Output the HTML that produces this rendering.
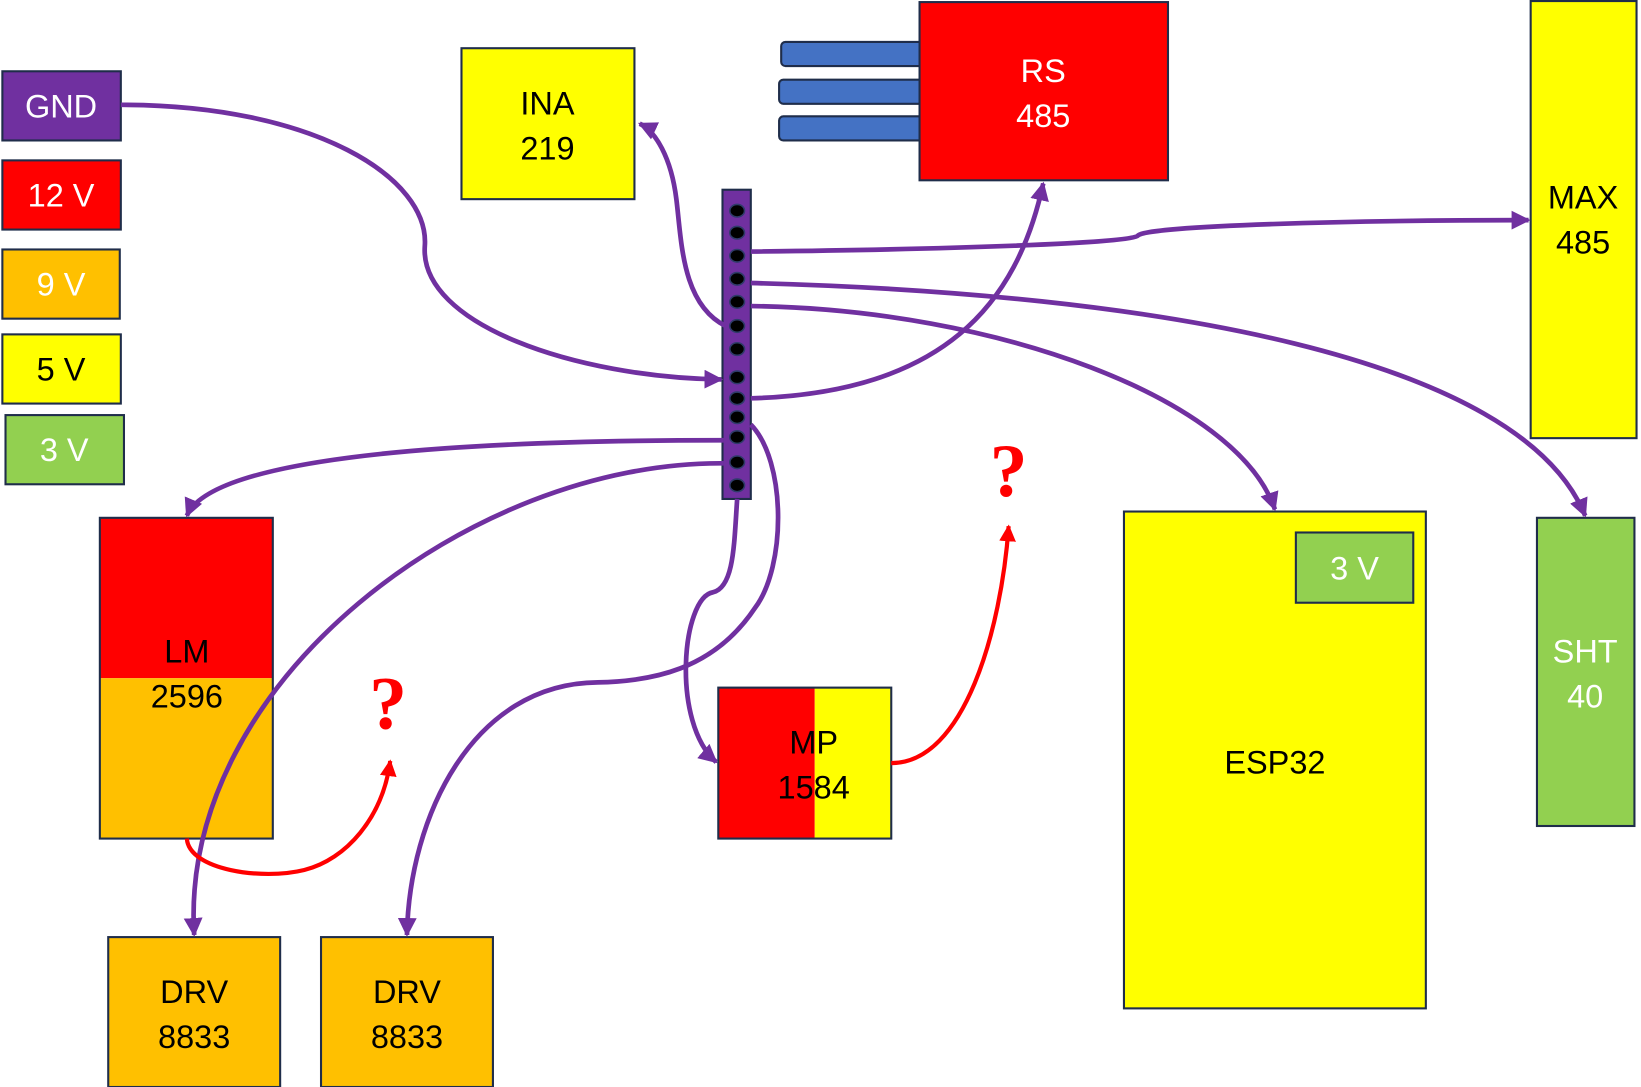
<!DOCTYPE html>
<html><head><style>html,body{margin:0;padding:0;background:#fff}svg{display:block}</style></head>
<body>
<svg width="1641" height="1087" viewBox="0 0 1565 1037" xmlns="http://www.w3.org/2000/svg" font-family="Liberation Sans, sans-serif" font-size="31" text-anchor="middle">
<defs>
<marker id="ap" viewBox="0 0 10 10" refX="9" refY="5" markerWidth="4" markerHeight="4" orient="auto" markerUnits="strokeWidth"><path d="M0,0 L10,5 L0,10 z" fill="#7030A0"/></marker>
<marker id="ar" viewBox="0 0 10 10" refX="9" refY="5" markerWidth="4" markerHeight="4" orient="auto" markerUnits="strokeWidth"><path d="M0,0 L10,5 L0,10 z" fill="#FF0000"/></marker>
</defs>
<g stroke="#1F2D4A" stroke-width="2">
<rect x="2" y="68" width="113" height="66" fill="#7030A0"/>
<rect x="2" y="153" width="113" height="66" fill="#FF0000"/>
<rect x="2" y="238" width="112" height="66" fill="#FFC000"/>
<rect x="2" y="319" width="113" height="66" fill="#FFFF00"/>
<rect x="5" y="396" width="113" height="66" fill="#92D050"/>
<rect x="440" y="46" width="165" height="144" fill="#FFFF00"/>
<rect x="745" y="40" width="140" height="23" rx="4" fill="#4472C4"/>
<rect x="743" y="76" width="142" height="23" rx="4" fill="#4472C4"/>
<rect x="743" y="111" width="142" height="23" rx="4" fill="#4472C4"/>
<rect x="877" y="2" width="237" height="170" fill="#FF0000"/>
<rect x="1460" y="1" width="101" height="417" fill="#FFFF00"/>
<rect x="95" y="494" width="165" height="153" fill="#FF0000" stroke="none"/>
<rect x="95" y="647" width="165" height="153" fill="#FFC000" stroke="none"/>
<rect x="95" y="494" width="165" height="306" fill="none"/>
<rect x="685" y="656" width="92" height="144" fill="#FF0000" stroke="none"/>
<rect x="777" y="656" width="73" height="144" fill="#FFFF00" stroke="none"/>
<rect x="685" y="656" width="165" height="144" fill="none"/>
<rect x="1072" y="488" width="288" height="474" fill="#FFFF00"/>
<rect x="1236" y="508" width="112" height="67" fill="#92D050"/>
<rect x="1466" y="494" width="93" height="294" fill="#92D050"/>
<rect x="103" y="894" width="164" height="143" fill="#FFC000"/>
<rect x="306" y="894" width="164" height="143" fill="#FFC000"/>
<rect x="689" y="181" width="27" height="295" fill="#7030A0"/>
</g>
<g fill="#000" stroke="#2F3B6A" stroke-width="1.5">
<ellipse cx="703" cy="201" rx="7" ry="6"/><ellipse cx="703" cy="222" rx="7" ry="6"/><ellipse cx="703" cy="244" rx="7" ry="6"/><ellipse cx="703" cy="266" rx="7" ry="6"/><ellipse cx="703" cy="288" rx="7" ry="6"/><ellipse cx="703" cy="311" rx="7" ry="6"/><ellipse cx="703" cy="333" rx="7" ry="6"/><ellipse cx="703" cy="360" rx="7" ry="6"/><ellipse cx="703" cy="380" rx="7" ry="6"/><ellipse cx="703" cy="398" rx="7" ry="6"/><ellipse cx="703" cy="417" rx="7" ry="6"/><ellipse cx="703" cy="441" rx="7" ry="6"/><ellipse cx="703" cy="463" rx="7" ry="6"/>
</g>
<g fill="none" stroke="#7030A0" stroke-width="4.5" marker-end="url(#ap)">
<path d="M115,100 C300,100 410,170 405,235 C400,310 550,360 688,362"/>
<path d="M692,311 C650,290 650,230 645,190 C640,150 625,125 610,118"/>
<path d="M716,240 C900,238 1080,232 1085,225 C1090,215 1300,210 1458,210"/>
<path d="M716,270 C1100,280 1450,340 1512,492"/>
<path d="M716,292 C950,295 1180,380 1216,486"/>
<path d="M716,380 C900,375 970,290 995,175"/>
<path d="M690,420 C400,420 200,440 178,492"/>
<path d="M690,442 C450,440 170,650 185,892"/>
<path d="M716,405 C750,440 750,540 720,580 C680,640 620,650 570,651 C450,652 390,780 388,892"/>
<path d="M703,476 C700,520 700,560 680,565 C650,570 640,690 683,727"/>
</g>
<g fill="none" stroke="#FF0000" stroke-width="4" marker-end="url(#ar)">
<path d="M178,800 C180,830 250,840 290,830 C330,820 365,780 372,726"/>
<path d="M850,728 C920,728 955,600 962,502"/>
</g>
<g fill="#FF0000" font-family="Liberation Serif, serif" font-weight="bold" font-size="72">
<text x="370" y="695">?</text><text x="962" y="473">?</text>
</g>
<g fill="#fff">
<text x="58" y="112">GND</text><text x="58" y="197">12 V</text><text x="58" y="282">9 V</text><text x="61" y="440">3 V</text>
<text x="995" y="78">RS</text><text x="995" y="121">485</text>
<text x="1292" y="553">3 V</text>
<text x="1512" y="632">SHT</text><text x="1512" y="675">40</text>
</g>
<g fill="#000">
<text x="58" y="363">5 V</text>
<text x="522" y="109">INA</text><text x="522" y="152">219</text>
<text x="1510" y="199">MAX</text><text x="1510" y="242">485</text>
<text x="178" y="632">LM</text><text x="178" y="675">2596</text>
<text x="776" y="719">MP</text><text x="776" y="762">1584</text>
<text x="1216" y="738">ESP32</text>
<text x="185" y="957">DRV</text><text x="185" y="1000">8833</text>
<text x="388" y="957">DRV</text><text x="388" y="1000">8833</text>
</g>
</svg>
</body></html>
